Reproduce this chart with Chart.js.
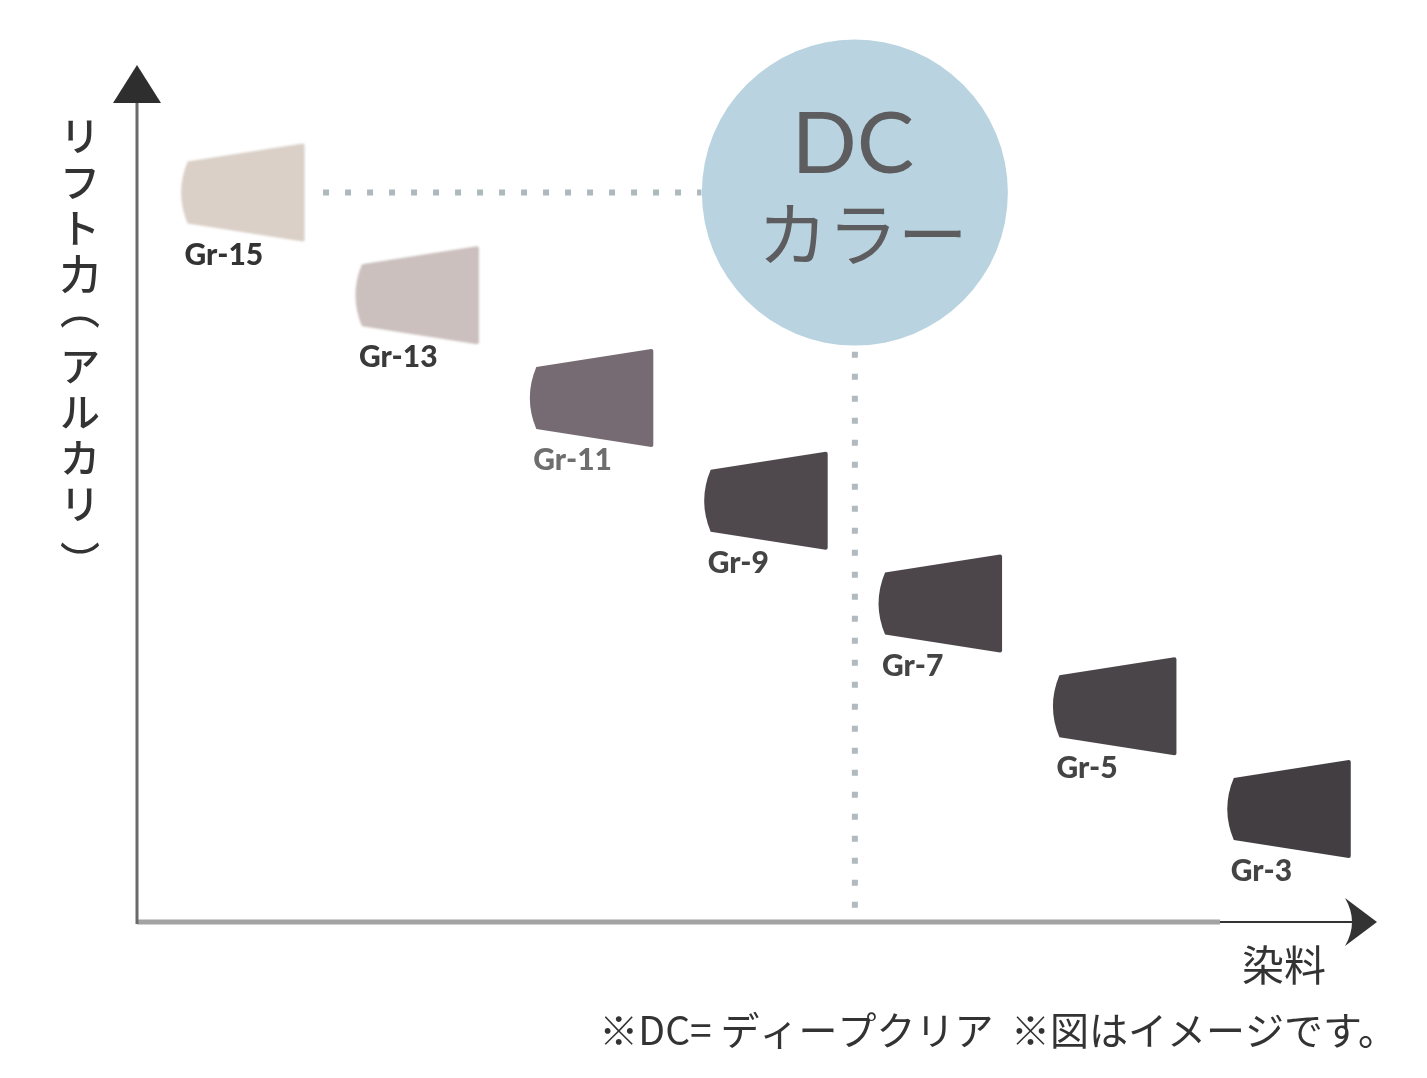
<!DOCTYPE html>
<html lang="ja">
<head>
<meta charset="utf-8">
<title>DCカラー</title>
<script src="https://cdn.jsdelivr.net/npm/chart.js@4/dist/chart.umd.min.js"></script>
<style>
  html, body { margin: 0; padding: 0; background: #fff; }
  #wrap { width: 1427px; height: 1078px; }
</style>
</head>
<body>
<div id="wrap"><canvas id="chart" width="1427" height="1078"></canvas></div>
<script>
(function () {
  'use strict';

  // data
  var grades = ['Gr-15', 'Gr-13', 'Gr-11', 'Gr-9', 'Gr-7', 'Gr-5', 'Gr-3'];
  var dyeLevel = [1, 2, 3, 4, 5, 6, 7];
  var liftLevel = [7, 6, 5, 4, 3, 2, 1];
  var dcX = [4.5];
  var dcY = [7];
  var dcLines = ['DC', 'カラー'];
  var hGuideX = [1.45, 3.62];
  var hGuideY = [7, 7];
  var vGuideX = [4.5, 4.5];
  var vGuideY = [5.45, 0.0];
  var yTitle = 'リフト力︵アルカリ︶';
  var xTitle = '染料';
  var footnote = '※DC= ディープクリア  ※図はイメージです。';

  // styles
  var shapeColors = ['#dad0c8', '#cbc0bd', '#766b72', '#4f494e', '#4c464b', '#4a4549', '#423e41'];
  var labelColors = ['#333333', '#3a3a3a', '#6e6e6e', '#444444', '#444444', '#444444', '#444444'];
  var JP = '"Noto Sans CJK JP", "Noto Sans", sans-serif';

  function pts(xs, ys) {
    return xs.map(function (x, i) {
      return { x: x, y: ys[i] };
    });
  }

  function cupPath(ctx, cx, cy) {
    var w = 60, hl = 31, hr = 49;
    ctx.beginPath();
    ctx.moveTo(cx - w + 3, cy - hl);
    ctx.lineTo(cx + w - 2, cy - hr);
    ctx.quadraticCurveTo(cx + w, cy - hr, cx + w, cy - hr + 2);
    ctx.lineTo(cx + w, cy + hr - 2);
    ctx.quadraticCurveTo(cx + w, cy + hr, cx + w - 2, cy + hr);
    ctx.lineTo(cx - w + 3, cy + hl);
    ctx.quadraticCurveTo(cx - w - 10, cy, cx - w + 3, cy - hl);
    ctx.closePath();
  }

  var drawingPlugin = {
    id: 'drawing',
    beforeDatasetsDraw: function (chart) {
      var ctx = chart.ctx, a = chart.chartArea;
      ctx.save();
      // x axis
      ctx.strokeStyle = '#a3a3a3';
      ctx.lineWidth = 5;
      ctx.beginPath();
      ctx.moveTo(a.left, a.bottom);
      ctx.lineTo(a.right - 155, a.bottom);
      ctx.stroke();
      ctx.strokeStyle = '#333';
      ctx.lineWidth = 2;
      ctx.beginPath();
      ctx.moveTo(a.right - 155, a.bottom);
      ctx.lineTo(a.right - 20, a.bottom);
      ctx.stroke();
      ctx.fillStyle = '#333';
      ctx.beginPath();
      ctx.moveTo(a.right - 30, a.bottom - 24);
      ctx.lineTo(a.right + 2, a.bottom);
      ctx.lineTo(a.right - 30, a.bottom + 24);
      ctx.quadraticCurveTo(a.right - 16, a.bottom, a.right - 30, a.bottom - 24);
      ctx.fill();
      // y axis
      ctx.strokeStyle = '#6a6a6a';
      ctx.lineWidth = 3;
      ctx.beginPath();
      ctx.moveTo(a.left, a.top);
      ctx.lineTo(a.left, a.bottom + 2);
      ctx.stroke();
      ctx.fillStyle = '#2e2e2e';
      ctx.beginPath();
      ctx.moveTo(a.left, a.top - 30);
      ctx.lineTo(a.left + 24, a.top + 8);
      ctx.lineTo(a.left - 24, a.top + 8);
      ctx.closePath();
      ctx.fill();
      ctx.restore();
    },
    afterDatasetsDraw: function (chart) {
      var ctx = chart.ctx, a = chart.chartArea;
      var xs = chart.scales.x, ys = chart.scales.y;
      ctx.save();
      // DC circle
      var dx = xs.getPixelForValue(dcX[0]), dy = ys.getPixelForValue(dcY[0]);
      ctx.fillStyle = '#b9d3e0';
      ctx.beginPath();
      ctx.arc(dx, dy, 153, 0, Math.PI * 2);
      ctx.fill();
      ctx.fillStyle = '#5d5c5e';
      ctx.textAlign = 'center';
      ctx.textBaseline = 'middle';
      ctx.font = '400 86px Lato, ' + JP;
      ctx.fillText(dcLines[0], dx - 2, dy - 47);
      ctx.font = '400 70px ' + JP;
      ctx.fillText(dcLines[1], dx + 8, dy + 42);

      // cups and labels
      grades.forEach(function (g, i) {
        var cx = xs.getPixelForValue(dyeLevel[i]);
        var cy = ys.getPixelForValue(liftLevel[i]);
        ctx.save();
        if (i < 2) ctx.filter = 'blur(1.2px)';
        ctx.fillStyle = shapeColors[i];
        cupPath(ctx, cx, cy);
        ctx.fill();
        ctx.restore();
        ctx.fillStyle = labelColors[i];
        ctx.textAlign = 'left';
        ctx.textBaseline = 'alphabetic';
        ctx.font = '900 30px Lato, sans-serif';
        ctx.fillText(g, cx - 60, cy + 72);
      });

      // axis titles (vertical writing)
      ctx.fillStyle = '#333';
      ctx.font = '500 40px ' + JP;
      ctx.textAlign = 'center';
      ctx.textBaseline = 'middle';
      Array.from(yTitle).forEach(function (c, i) {
        var cy = 136 + i * 46;
        if (c === '︵') cy -= 11;
        if (c === '︶') cy += 11;
        ctx.fillText(c, a.left - 57, cy);
      });
      ctx.font = '400 42px ' + JP;
      ctx.fillText(xTitle, a.right - 91, a.bottom + 43);
      ctx.textAlign = 'right';
      ctx.font = '400 39px ' + JP;
      ctx.fillText(footnote, a.right + 22, a.bottom + 108);
      ctx.restore();
    }
  };

  document.addEventListener('DOMContentLoaded', function () {
    new Chart(document.getElementById('chart'), {
      type: 'scatter',
      data: {
        datasets: [
          {
            label: 'h-guide',
            data: pts(hGuideX, hGuideY),
            showLine: true,
            borderColor: '#aeb9be',
            borderWidth: 6,
            borderDash: [6, 16],
            borderCapStyle: 'butt',
            pointRadius: 0,
          },
          {
            label: 'v-guide',
            data: pts(vGuideX, vGuideY),
            showLine: true,
            borderColor: '#b0babf',
            borderWidth: 6,
            borderDash: [6, 16],
            borderCapStyle: 'butt',
            pointRadius: 0,
          },
          {
            label: 'grades',
            data: pts(dyeLevel, liftLevel),
            pointRadius: 0,
          },
        ],
      },
      options: {
        responsive: false,
        animation: false,
        events: [],
        layout: { padding: { left: 137, right: 52, top: 95, bottom: 156 } },
        scales: {
          x: { type: 'linear', min: 0.383, max: 7.483, display: false },
          y: { type: 'linear', min: -0.1, max: 7.95, display: false },
        },
        plugins: { legend: { display: false }, tooltip: { enabled: false } },
      },
      plugins: [drawingPlugin],
    });
  });
})();
</script>
</body>
</html>
